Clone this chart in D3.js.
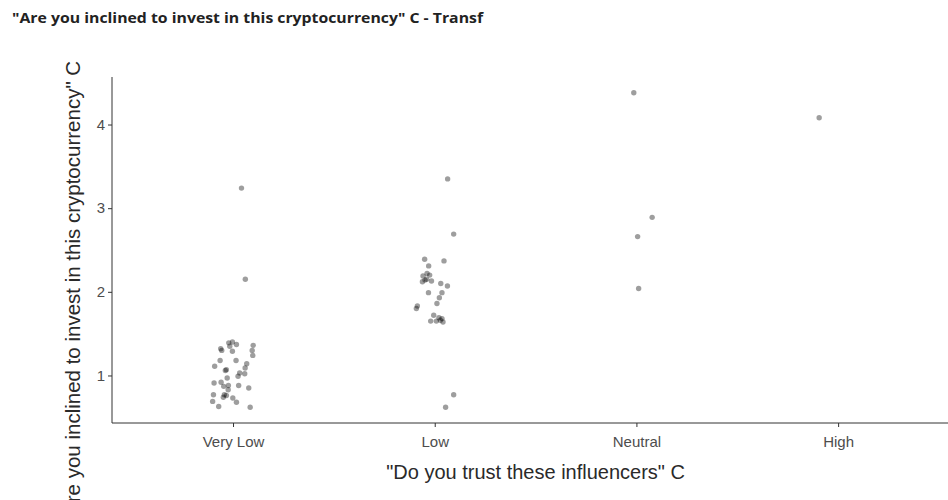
<!DOCTYPE html>
<html>
<head>
<meta charset="utf-8">
<script src="https://cdn.jsdelivr.net/npm/d3@7"></script>
<style>
  html, body { margin: 0; padding: 0; background: #fff; }
  svg { display: block; }
</style>
</head>
<body>
<svg id="chart" width="948" height="500"></svg>
<script>
// Categories of the x axis
const categories = ["Very Low", "Low", "Neutral", "High"];
const yTicks = [1, 2, 3, 4];

// Responses per category: value and horizontal jitter (in category units)
const veryLowValues = [1.32, 1.30, 1.39, 1.40, 1.37, 1.35, 1.29, 1.36, 1.30, 1.24,
  1.18, 1.18, 1.11, 1.07, 1.06, 1.14, 1.09, 1.03, 1.02, 0.99,
  0.97, 0.91, 0.92, 0.87, 0.88, 0.88, 0.85, 0.83, 0.77, 0.77,
  0.74, 0.76, 0.73, 0.68, 0.69, 0.63, 0.62, 3.24, 2.15];
const veryLowJitter = [-0.061, -0.056, -0.021, -0.003, 0.017, -0.016, -0.003, 0.100, 0.095, 0.098,
  -0.064, 0.015, -0.091, -0.033, -0.038, 0.068, 0.060, 0.033, 0.058, 0.025,
  -0.029, -0.094, -0.059, -0.046, -0.023, 0.028, 0.078, -0.024, -0.097, -0.043,
  -0.048, -0.033, -0.001, 0.017, -0.101, -0.071, 0.085, 0.042, 0.061];

const lowValues = [2.39, 2.37, 2.31, 2.22, 2.19, 2.20, 2.14, 2.12, 2.13, 2.15,
  2.10, 2.07, 1.99, 1.99, 1.93, 1.86, 1.83, 1.80, 1.72, 1.69,
  1.68, 1.65, 1.65, 1.64, 1.66, 3.35, 2.69, 0.77, 0.62];
const lowJitter = [-0.050, 0.046, -0.030, -0.038, -0.058, -0.025, -0.048, -0.061, -0.016, -0.040,
  0.030, 0.063, -0.031, 0.036, 0.023, 0.011, -0.086, -0.091, -0.005, 0.021,
  0.036, -0.020, 0.008, 0.041, 0.028, 0.064, 0.094, 0.094, 0.054];

const neutralValues = [4.38, 2.89, 2.66, 2.04];
const neutralJitter = [-0.013, 0.078, 0.006, 0.011];

const highValues = [4.08];
const highJitter = [-0.094];

const groups = [
  { values: veryLowValues, jitter: veryLowJitter },
  { values: lowValues, jitter: lowJitter },
  { values: neutralValues, jitter: neutralJitter },
  { values: highValues, jitter: highJitter }
];
const points = [];
groups.forEach((g, i) => g.values.forEach((v, k) => points.push({ cat: i, jit: g.jitter[k], value: v })));

const svg = d3.select("#chart");
const panelLeft = 112, panelTop = 77, panelBottom = 423;
const step = 201.7;

// Discrete x positions with 0.6 category of padding on each side
const x = d3.scaleLinear()
  .domain([-0.6, categories.length - 1 + 0.6])
  .range([panelLeft, panelLeft + step * (categories.length - 1 + 1.2)]);
const y = d3.scaleLinear().domain([0.432, 4.568]).range([panelBottom, panelTop]);

const tickColor = "#333";
const labelColor = "#4d4d4d";
const font = "'Liberation Sans', Arial, sans-serif";

// Title
svg.append("text")
  .attr("x", 12).attr("y", 23)
  .attr("font-family", "'Open Sans', sans-serif")
  .attr("font-weight", "bold")
  .attr("font-size", 15)
  .attr("textLength", 471)
  .attr("lengthAdjust", "spacingAndGlyphs")
  .attr("fill", "#222")
  .text("\"Are you inclined to invest in this cryptocurrency\" C - Transf");

// Y axis
const yAxis = svg.append("g")
  .attr("transform", `translate(${panelLeft},0)`)
  .call(d3.axisLeft(y).tickValues(yTicks).tickSize(4).tickPadding(3).tickFormat(d3.format("d")));
yAxis.select(".domain").attr("stroke", tickColor).attr("d", `M0,${panelBottom}V${panelTop}`);
yAxis.selectAll(".tick line").attr("stroke", tickColor);
yAxis.selectAll(".tick text").attr("fill", labelColor).attr("font-family", font).attr("font-size", 15);

// X axis
const xAxis = svg.append("g")
  .attr("transform", `translate(0,${panelBottom})`)
  .call(d3.axisBottom(x).tickValues(d3.range(categories.length)).tickSize(4).tickPadding(9).tickFormat(i => categories[i]));
xAxis.select(".domain").attr("stroke", tickColor).attr("d", `M${panelLeft},0H${x.range()[1]}`);
xAxis.selectAll(".tick line").attr("stroke", tickColor);
xAxis.selectAll(".tick text").attr("fill", labelColor).attr("font-family", font).attr("font-size", 15);

// Axis titles
svg.append("text")
  .attr("x", (panelLeft + x.range()[1]) / 2).attr("y", 479)
  .attr("text-anchor", "middle")
  .attr("font-family", font).attr("font-size", 20).attr("fill", "#2a2a2a")
  .text("\"Do you trust these influencers\" C");

svg.append("text")
  .attr("transform", `translate(80,292) rotate(-90)`)
  .attr("text-anchor", "middle")
  .attr("font-family", font).attr("font-size", 20.5).attr("fill", "#2a2a2a")
  .text("\"Are you inclined to invest in this cryptocurrency\" C");

// Points
svg.append("g").selectAll("circle")
  .data(points)
  .join("circle")
  .attr("cx", d => x(d.cat + d.jit))
  .attr("cy", d => y(d.value))
  .attr("r", 2.7)
  .attr("fill", "#000")
  .attr("fill-opacity", 0.38);
</script>
</body>
</html>
